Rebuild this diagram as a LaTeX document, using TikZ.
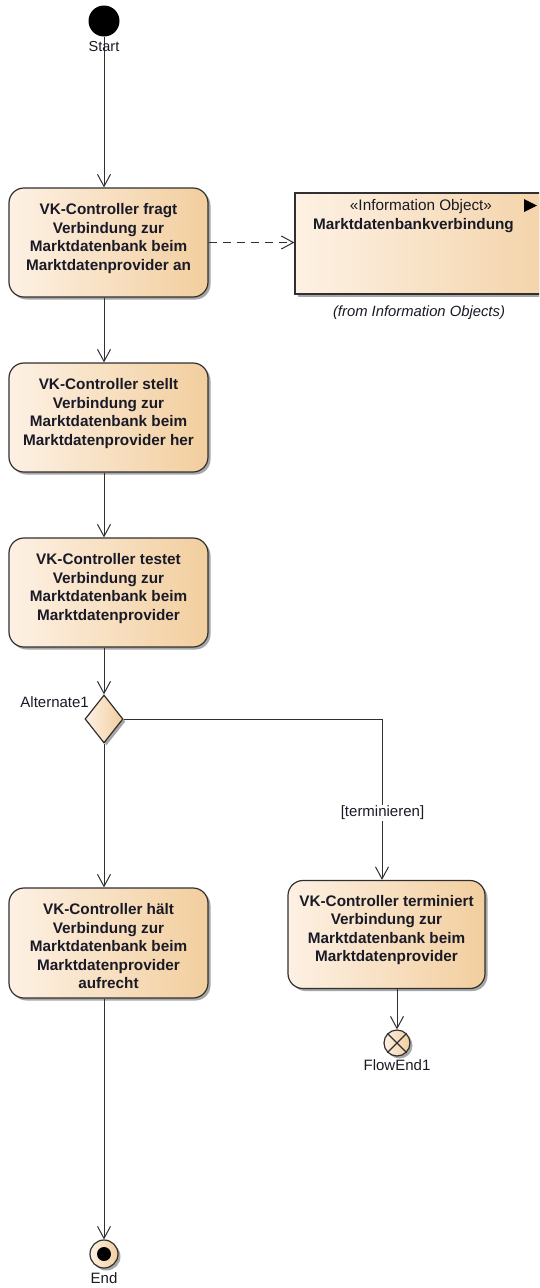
\documentclass[tikz,border=0pt]{standalone}
\usepackage{fontspec}
\setmainfont{Liberation Sans}
\usetikzlibrary{arrows.meta,shapes.geometric,shadows}

\definecolor{fillL}{HTML}{FDF1E4}
\definecolor{fillR}{HTML}{F2CE9E}
\definecolor{edge}{HTML}{303030}
\definecolor{ink}{HTML}{1A1A26}

\begin{document}
\begin{tikzpicture}[x=1pt,y=-1pt,
  shade/.style={left color=fillL, right color=fillR,
    drop shadow={shadow xshift=2.5pt, shadow yshift=-2.5pt, fill=black, opacity=0.35}},
  action/.style={shade, draw=edge, line width=1.2pt, rounded corners=15pt,
    minimum width=199pt, inner sep=0pt},
  actext/.style={anchor=north, yshift=-16pt, align=center, inner sep=0pt, text=ink,
    font=\fontsize{15.3}{18.5}\selectfont\bfseries},
  flow/.style={draw=edge, line width=1pt,
    -{Straight Barb[length=12pt,width=13pt,line width=1pt]}},
  lbl/.style={font=\fontsize{15}{17}\selectfont, text=ink, inner sep=0pt}
]
\clip (0,0) rectangle (539,1288);
\fill[white] (0,0) rectangle (539,1288);

% initial node
\node[circle, fill=black, minimum size=31pt, inner sep=0pt] (start) at (104,21) {};

% actions (boxes, then their top-aligned texts)
\node[action, minimum height=109pt] (a1) at (108.5,242.5) {};
\node[action, minimum height=109pt] (a2) at (108.5,417.5) {};
\node[action, minimum height=109pt] (a3) at (108.5,592.5) {};
\node[action, minimum height=110pt] (a5) at (108.5,943) {};
\node[action, minimum width=197pt, minimum height=108pt] (a6) at (386.5,934.5) {};
\node[actext] (a1t) at (a1.north)
  {VK-Controller fragt\\Verbindung zur\\Marktdatenbank beim\\Marktdatenprovider an};
\node[actext] (a2t) at (a2.north)
  {VK-Controller stellt\\Verbindung zur\\Marktdatenbank beim\\Marktdatenprovider her};
\node[actext] (a3t) at (a3.north)
  {VK-Controller testet\\Verbindung zur\\Marktdatenbank beim\\Marktdatenprovider};
\node[actext] (a5t) at (a5.north)
  {VK-Controller hält\\Verbindung zur\\Marktdatenbank beim\\Marktdatenprovider\\aufrecht};
\node[actext, yshift=1pt] (a6t) at (a6.north)
  {VK-Controller terminiert\\Verbindung zur\\Marktdatenbank beim\\Marktdatenprovider};

% information object
\node[shade, draw=edge, line width=1.2pt, minimum width=300pt, minimum height=101pt,
  inner sep=0pt] (io) at (445,243.5) {};
\node[lbl, font=\fontsize{15.3}{17}\selectfont] (iost) at (421,207) {«Information Object»};
\node[lbl, font=\fontsize{15.3}{17}\selectfont\bfseries] (ioname) at (413.5,226) {Marktdatenbankverbindung};
\fill[black] (524,199) -- (537,205.5) -- (524,212) -- cycle;
\node[lbl, font=\fontsize{14.8}{17}\selectfont\itshape] (iofrom) at (419,313) {(from Information Objects)};

% decision
\node[shade, diamond, draw=edge, line width=1.2pt, minimum width=38pt, minimum height=48pt,
  inner sep=0pt] (dec) at (104,719) {};
\node[lbl, anchor=east] (declbl) at (89,702) {Alternate1};

% final nodes
\node[shade, circle, draw=edge, line width=1.2pt, minimum size=28pt, inner sep=0pt] (endn) at (104,1254) {};
\fill[black] (endn.center) circle (7pt);
\node[shade, circle, draw=edge, line width=1.2pt, minimum size=26pt, inner sep=0pt] (fe) at (397,1043) {};
\draw[edge, line width=1.2pt] (fe.north west) -- (fe.south east) (fe.north east) -- (fe.south west);

% connectors
\draw[flow] (start) -- (start |- a1.north);
\draw[flow, dash pattern=on 8pt off 6pt] (a1.east) -- (a1.east -| io.west);
\draw[flow] (a1.south -| start) -- (start |- a2.north);
\draw[flow] (a2.south -| start) -- (start |- a3.north);
\draw[flow] (a3.south -| start) -- (dec.north);
\draw[flow] (dec.south) -- (dec.south |- a5.north);
\draw[flow] (dec.east) -| ([xshift=-4.5pt]a6.north);
\draw[flow] (a5.south -| dec) -- (endn.north);
\draw[flow] (a6.south -| fe) -- (fe.north);

% labels
\node[lbl, font=\fontsize{14.5}{17}\selectfont] (startlbl) at (104,47) {Start};
\node[lbl, fill=white, inner sep=1pt] (guard) at (382.5,813) {[terminieren]};
\node[lbl] (felbl) at (397,1065) {FlowEnd1};
\node[lbl] (endlbl) at (104,1278) {End};
\end{tikzpicture}
\end{document}
